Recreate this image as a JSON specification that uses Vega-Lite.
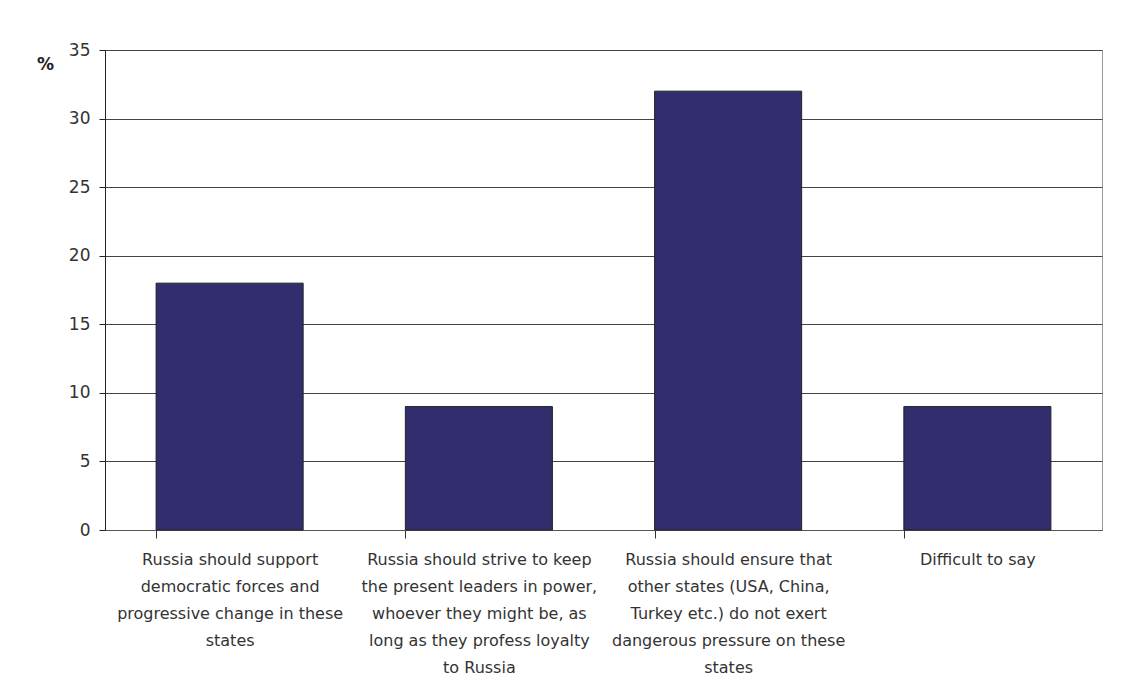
{
  "$schema": "https://vega.github.io/schema/vega-lite/v6.json",
  "width": 997,
  "height": 480,
  "autosize": {"type": "none"},
  "padding": {"left": 105, "top": 50, "right": 32, "bottom": 161},
  "background": "white",
  "config": {
    "view": {"stroke": "#999", "strokeWidth": 1},
    "font": "DejaVu Sans"
  },
  "data": {
    "values": [
      {"answer": "Russia should support|democratic forces and|progressive change in these|states", "pct": 18},
      {"answer": "Russia should strive to keep|the present leaders in power,|whoever they might be, as|long as they profess loyalty|to Russia", "pct": 9},
      {"answer": "Russia should ensure that|other states (USA, China,|Turkey etc.) do not exert|dangerous pressure on these|states", "pct": 32},
      {"answer": "Difficult to say", "pct": 9}
    ]
  },
  "mark": {"type": "bar", "color": "#322E6E", "stroke": "#222", "strokeWidth": 1},
  "encoding": {
    "x": {
      "field": "answer",
      "type": "nominal",
      "sort": null,
      "scale": {"paddingInner": 0.41, "paddingOuter": 0.205},
      "axis": {
        "title": null,
        "labelAngle": 0,
        "labelExpr": "split(datum.label, '|')",
        "labelLimit": 0,
        "labelFontSize": 16,
        "labelColor": "#333",
        "labelLineHeight": 27,
        "labelPadding": 13,
        "bandPosition": 0,
        "tickColor": "#333",
        "tickSize": 8,
        "tickOffset": 0,
        "domainColor": "#555",
        "labelBaseline": "top"
      }
    },
    "y": {
      "field": "pct",
      "type": "quantitative",
      "scale": {"domain": [0, 35]},
      "axis": {
        "values": [0, 5, 10, 15, 20, 25, 30, 35],
        "title": "%",
        "titleAngle": 0,
        "titleX": -60,
        "titleY": 23,
        "titleFontSize": 17,
        "titleFontWeight": "bold",
        "titleColor": "#222",
        "labelFontSize": 17,
        "labelColor": "#333",
        "labelPadding": 9,
        "tickColor": "#222",
        "tickSize": 6,
        "domainColor": "#222",
        "gridColor": "#444",
        "gridWidth": 1
      }
    }
  }
}
